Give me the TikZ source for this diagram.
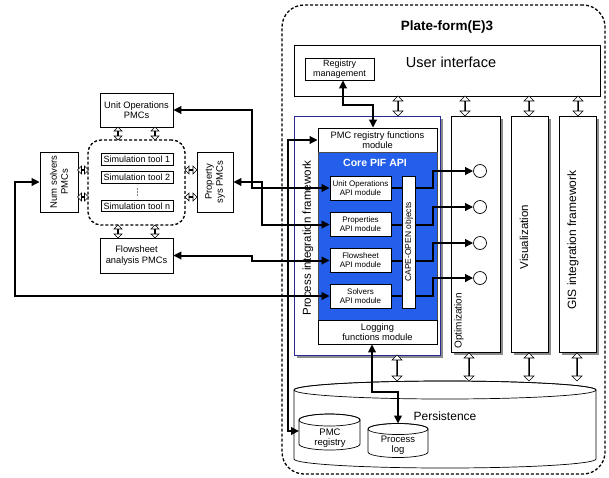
\documentclass[tikz,border=0pt]{standalone}
\usepackage{fontspec}
\setmainfont{Liberation Sans}
\usetikzlibrary{arrows.meta,shapes.arrows,shadows,calc}
\definecolor{coreblue}{RGB}{35,95,235}
\definecolor{navy}{RGB}{40,40,150}
\newcommand{\fsz}[2]{\fontsize{#1}{#2}\selectfont}
\begin{document}
\begin{tikzpicture}[x=1pt,y=-1pt,
  box/.style={draw,fill=white,line width=0.7pt,inner sep=0pt,align=center},
  colbox/.style={box,drop shadow={shadow xshift=2.5pt,shadow yshift=-2.5pt,opacity=1,fill=black!45}},
  tip/.tip={Triangle[length=8pt,width=7.5pt]},
  conn/.style={line width=2pt,tip-tip},
  conn1/.style={line width=2pt,-tip},
  plain/.style={line width=2pt},
  harr/.style={shape=double arrow,draw,fill=white,inner sep=0pt,line width=0.6pt,
    minimum width=10pt,double arrow head extend=3pt,rotate=90},
  sarr/.style={shape=double arrow,draw,fill=white,inner sep=0pt,line width=0.6pt,
    minimum width=8pt,double arrow head extend=2pt},
  dbox/.style={draw,line width=1.3pt,dash pattern=on 3pt off 2pt},
  circ/.style={circle,draw,fill=white,minimum size=13pt,inner sep=0pt,line width=0.7pt}
]
\useasboundingbox (0,0) rectangle (609,477);

% ---------- outer platform ----------
\node[dbox,rounded corners=22pt,minimum width=323pt,minimum height=469pt] (platform) at (443.5,239.5) {};
\node[font=\bfseries\fsz{13.5}{15}] (title) at (447,27) {Plate-form(E)3};

% ---------- user interface ----------
\node[box,minimum width=306pt,minimum height=51pt] (ui) at (447,70.5) {};
\node[font=\fsz{14.5}{16}] (uitext) at (451,62) {User interface};
\node[box,minimum width=69pt,minimum height=22pt,font=\fsz{9}{10}] (regmgmt) at (339.5,69) {Registry\\management};

% ---------- columns ----------
\node[colbox,minimum width=49pt,minimum height=236pt] (opt) at (475.5,234) {};
\node[colbox,minimum width=37pt,minimum height=236pt] (vis) at (529.5,234) {};
\node[colbox,minimum width=37pt,minimum height=236pt] (gis) at (577.5,234) {};
\node[rotate=90,anchor=west,font=\fsz{10}{11}] (opttext) at (459,352) {Optimization};
\node[rotate=90,font=\fsz{11.5}{13}] (vistext) at (524,237) {Visualization};
\node[rotate=90,font=\fsz{12}{13}] (gistext) at (573,240) {GIS integration framework};

% ---------- process integration framework ----------
\node[draw=navy,fill=white,line width=0.8pt,minimum width=146pt,minimum height=239pt,
  drop shadow={shadow xshift=2.5pt,shadow yshift=-2.5pt,opacity=1,fill=black!45}] (pif) at (367,235.5) {};
\node[rotate=90,font=\fsz{11.5}{13}] (piftext) at (308,238) {Process integration framework};
\node[box,minimum width=119pt,minimum height=24pt,font=\fsz{9.3}{10.5}] (pmcreg) at (377.5,140) {PMC registry functions\\module};
\node[draw=black!70,fill=coreblue,line width=0.5pt,minimum width=119pt,minimum height=168pt] (core) at (377.5,236) {};
\node[font=\bfseries\fsz{10.5}{12},text=white] (coretext) at (375,163) {Core PIF API};
\node[box,minimum width=119pt,minimum height=24pt,font=\fsz{9.3}{10.5}] (logging) at (377.5,332) {Logging\\functions module};

\node[box,minimum width=61pt,minimum height=24pt,font=\fsz{8}{9}] (uoapi) at (360.5,188) {Unit Operations\\API module};
\node[box,minimum width=61pt,minimum height=24pt,font=\fsz{8}{9}] (propapi) at (360.5,224.5) {Properties\\API module};
\node[box,minimum width=61pt,minimum height=24pt,font=\fsz{8}{9}] (fsapi) at (360.5,260.5) {Flowsheet\\API module};
\node[box,minimum width=61pt,minimum height=24pt,font=\fsz{8}{9}] (solapi) at (360.5,296) {Solvers\\API module};
\node[box,minimum width=13pt,minimum height=132pt] (cape) at (409,242) {};
\node[rotate=90,font=\fsz{8.5}{9.5}] (capetext) at (cape) {CAPE-OPEN objects};

% ---------- circles ----------
\node[circ] (c1) at (480,171) {};
\node[circ] (c2) at (480,207) {};
\node[circ] (c3) at (480,243) {};
\node[circ] (c4) at (480,278) {};

% ---------- persistence ----------
\draw[line width=0.7pt,fill=white] (294,459) arc[start angle=180,end angle=360,x radius=151pt,y radius=9pt]
  -- (596,390) arc[start angle=0,end angle=180,x radius=151pt,y radius=9pt] -- cycle;
\draw[line width=0.7pt] (445,390) ellipse [x radius=151pt,y radius=9pt];
\node[font=\fsz{12}{13}] (perstext) at (445,416) {Persistence};

\draw[line width=0.7pt,fill=white] (299,444) arc[start angle=180,end angle=360,x radius=30.5pt,y radius=6pt]
  -- (360,420) arc[start angle=0,end angle=180,x radius=30.5pt,y radius=6pt] -- cycle;
\draw[line width=0.7pt] (329.5,420) ellipse [x radius=30.5pt,y radius=6pt];
\node[align=center,font=\fsz{9.5}{10.5}] (pmcregtext) at (330,438) {PMC\\registry};
\coordinate (pmccyl) at (299,431);

\draw[line width=0.7pt,fill=white] (368,452) arc[start angle=180,end angle=360,x radius=30pt,y radius=5.5pt]
  -- (428,429) arc[start angle=0,end angle=180,x radius=30pt,y radius=5.5pt] -- cycle;
\draw[line width=0.7pt] (398,429) ellipse [x radius=30pt,y radius=5.5pt];
\node[align=center,font=\fsz{9.5}{10.5}] (plogtext) at (398,445) {Process\\log};
\coordinate (plogtop) at (398,423.5);

% ---------- hollow double arrows ----------
\node[harr,minimum height=20pt] (ha1) at (398,106) {};
\node[harr,minimum height=20pt] (ha2) at (465,106) {};
\node[harr,minimum height=20pt] (ha3) at (529,106) {};
\node[harr,minimum height=20pt] (ha4) at (578,106) {};
\node[harr,minimum height=26pt] (hb1) at (397,368) {};
\node[harr,minimum height=28pt] (hb2) at (469,367) {};
\node[harr,minimum height=28pt] (hb3) at (529,367) {};
\node[harr,minimum height=28pt] (hb4) at (577,367) {};

% ---------- left side ----------
\node[box,minimum width=73pt,minimum height=34pt,font=\fsz{9.3}{10.5}] (uopmc) at (136.5,110) {Unit Operations\\PMCs};
\node[box,minimum width=73pt,minimum height=35pt,font=\fsz{9.3}{10.5}] (fspmc) at (136.5,255.5) {Flowsheet\\analysis PMCs};
\node[box,minimum width=38pt,minimum height=60pt] (numsol) at (59,182) {};
\node[rotate=90,align=center,font=\fsz{9.5}{11}] (numsoltext) at (numsol) {Num solvers\\PMCs};
\node[box,minimum width=36pt,minimum height=60pt] (propsys) at (215,182) {};
\node[rotate=90,align=center,font=\fsz{9.5}{11}] (propsystext) at (propsys) {Property\\sys PMCs};

\node[dbox,rounded corners=13pt,minimum width=97pt,minimum height=85pt] (simgrp) at (136.5,182.5) {};
\node[box,line width=0.6pt,minimum width=72pt,minimum height=11.5pt,font=\fsz{9}{10}] (sim1) at (137,159.5) {Simulation tool 1};
\node[box,line width=0.6pt,minimum width=72pt,minimum height=11.5pt,font=\fsz{9}{10}] (sim2) at (137,177.5) {Simulation tool 2};
\node[box,line width=0.6pt,minimum width=72pt,minimum height=11.5pt,font=\fsz{9}{10}] (simn) at (137,206) {Simulation tool n};
\draw[densely dotted,black!50,line width=0.5pt] (sim2.south) ++(0,4) -- ++(0,9);

\node[sarr,rotate=90,minimum height=13pt] (s1) at (118,133.5) {};
\node[sarr,rotate=90,minimum height=13pt] (s2) at (155,133.5) {};
\node[sarr,rotate=90,minimum height=13pt] (s3) at (118,231.5) {};
\node[sarr,rotate=90,minimum height=13pt] (s4) at (155,231.5) {};
\node[sarr,minimum height=11pt] (s5) at (83,170) {};
\node[sarr,minimum height=11pt] (s6) at (83,197) {};
\node[sarr,minimum height=12pt] (s7) at (191,170) {};
\node[sarr,minimum height=12pt] (s8) at (191,197) {};

% ---------- connectors ----------
\draw[conn] (uopmc.east) -- ++(79,0) |- (uoapi.west);
\draw[conn] (propsys.east) -- ++(29,0) |- (propapi.west);
\draw[conn] (fspmc.east) -- ++(79,0) |- (fsapi.west);
\draw[conn] (numsol.west) -- ++(-25,0) |- (solapi.west);
\draw[conn] (pmcreg.west) -- ++(-30,0) |- (pmccyl);
\draw[conn] ([xshift=3.5pt]regmgmt.south) -- ++(0,25) -| ([xshift=-4.5pt]pmcreg.north);
\draw[conn] ([xshift=-5.5pt]logging.south) -- ++(0,48) -| (plogtop);

\draw[plain] (uoapi.east) -- (uoapi.east -| cape.west);
\draw[plain] (propapi.east) -- (propapi.east -| cape.west);
\draw[plain] (fsapi.east) -- (fsapi.east -| cape.west);
\draw[plain] (solapi.east) -- (solapi.east -| cape.west);
\draw[conn1] (uoapi.east -| cape.east) -- ++(17,0) |- (c1.west);
\draw[conn1] (propapi.east -| cape.east) -- ++(17,0) |- (c2.west);
\draw[conn1] (fsapi.east -| cape.east) -- ++(17,0) |- (c3.west);
\draw[conn1] (solapi.east -| cape.east) -- ++(17,0) |- (c4.west);
\end{tikzpicture}
\end{document}
